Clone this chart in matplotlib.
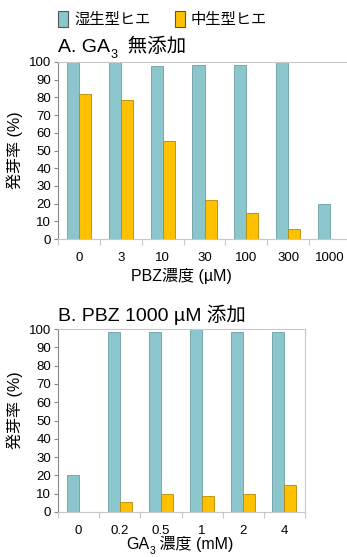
import matplotlib
matplotlib.use("Agg")
import matplotlib.pyplot as plt
import matplotlib.patches as mpatches
import numpy as np

plt.rcParams['font.family'] = ['Liberation Sans', 'Noto Sans CJK JP', 'DejaVu Sans']

# panel A: no GA3, PBZ concentration series
pbz_labels = ["0", "3", "10", "30", "100", "300", "1000"]
pbz_wet = [100, 100, 98, 98.5, 98.5, 100, 20]
pbz_mid = [82, 78.5, 55.5, 22, 14.5, 5.5, np.nan]

# panel B: PBZ 1000 uM + GA3 series
ga_labels = ["0", "0.2", "0.5", "1", "2", "4"]
ga_wet = [20, 98.5, 98.5, 100, 98.5, 98.5]
ga_mid = [np.nan, 5.5, 10, 9, 10, 14.5]

series_names = ["湿生型ヒエ", "中生型ヒエ"]
teal = "#8BC6CD"
teal_edge = "#6E9FA6"
gold = "#FFC000"
gold_edge = "#B58A00"
frame = "#C8C8C8"

W, H = 347, 557
fig = plt.figure(figsize=(W / 100, H / 100), dpi=100)
renderer = fig.canvas.get_renderer()


def px_axes(x0, y0, x1, y1):
    return fig.add_axes([x0 / W, 1 - y1 / H, (x1 - x0) / W, (y1 - y0) / H])


def sub_text(x, y, parts, size, ha='left'):
    # parts: list of (text, is_subscript); drawn piece by piece in pixels
    widths = []
    for s, sub in parts:
        t = fig.text(0, 0, s, fontsize=size * (0.65 if sub else 1))
        widths.append(t.get_window_extent(renderer).width)
        t.remove()
    total = sum(widths)
    cx = x - total / 2 if ha == 'center' else x
    for (s, sub), w in zip(parts, widths):
        dy = -size * 0.4 if sub else 0
        fig.text(cx / W, (H - y + dy) / H, s, fontsize=size * (0.65 if sub else 1),
                 ha='left', va='baseline')
        cx += w


def draw_panel(ax, labels, wet, mid, right_spine=True):
    x = np.arange(len(labels))
    bw = 0.29
    ax.bar(x - bw / 2, wet, bw, color=teal, edgecolor=teal_edge, linewidth=0.6)
    ax.bar(x + bw / 2, mid, bw, color=gold, edgecolor=gold_edge, linewidth=0.6)
    ax.set_xlim(-0.5, len(labels) - 0.5)
    ax.set_ylim(0, 100)
    ax.set_yticks(np.arange(0, 101, 10))
    ax.set_xticks(x)
    ax.set_xticklabels(labels)
    ax.set_xticks(np.arange(len(labels) + 1) - 0.5, minor=True)
    ax.tick_params(axis='x', which='major', length=0, labelsize=9.5, pad=9)
    ax.tick_params(axis='x', which='minor', length=4, color=frame, width=0.8)
    ax.tick_params(axis='y', length=3, color='#888888', width=0.8, labelsize=9.5, pad=2)
    for s in ['top', 'bottom', 'right']:
        ax.spines[s].set_color(frame)
        ax.spines[s].set_linewidth(0.8)
    ax.spines['left'].set_color('#888888')
    ax.spines['left'].set_linewidth(0.8)
    ax.spines['right'].set_visible(right_spine)


ax1 = px_axes(58, 62, 351, 239)
draw_panel(ax1, pbz_labels, pbz_wet, pbz_mid, right_spine=False)

ax2 = px_axes(58, 329, 305, 512)
draw_panel(ax2, ga_labels, ga_wet, ga_mid)

sub_text(58, 52, [("A. GA", False), ("3", True), ("  無添加", False)], 14)
fig.text(58 / W, 1 - 321 / H, "B. PBZ 1000 µM 添加", fontsize=14, ha='left', va='baseline')

fig.text(181 / W, 1 - 276 / H, "PBZ濃度 (µM)", fontsize=11.5, ha='center', va='center')
sub_text(180, 549, [("GA", False), ("3", True), (" 濃度 (mM)", False)], 11.5, ha='center')

fig.text(15 / W, 1 - 150 / H, "発芽率 (%)", fontsize=11.5, rotation=90, ha='center', va='center')
fig.text(15 / W, 1 - 410 / H, "発芽率 (%)", fontsize=11.5, rotation=90, ha='center', va='center')

handles = [mpatches.Patch(facecolor=teal, edgecolor='#555555', linewidth=0.8),
           mpatches.Patch(facecolor=gold, edgecolor='#555555', linewidth=0.8)]
fig.legend(handles, series_names, loc='center left', bbox_to_anchor=(52 / W, 1 - 19 / H),
           ncol=2, frameon=False, fontsize=11, handlelength=0.65, handleheight=1.2,
           handletextpad=0.4, columnspacing=1.6, borderaxespad=0)

fig.savefig("out.png", dpi=100)
